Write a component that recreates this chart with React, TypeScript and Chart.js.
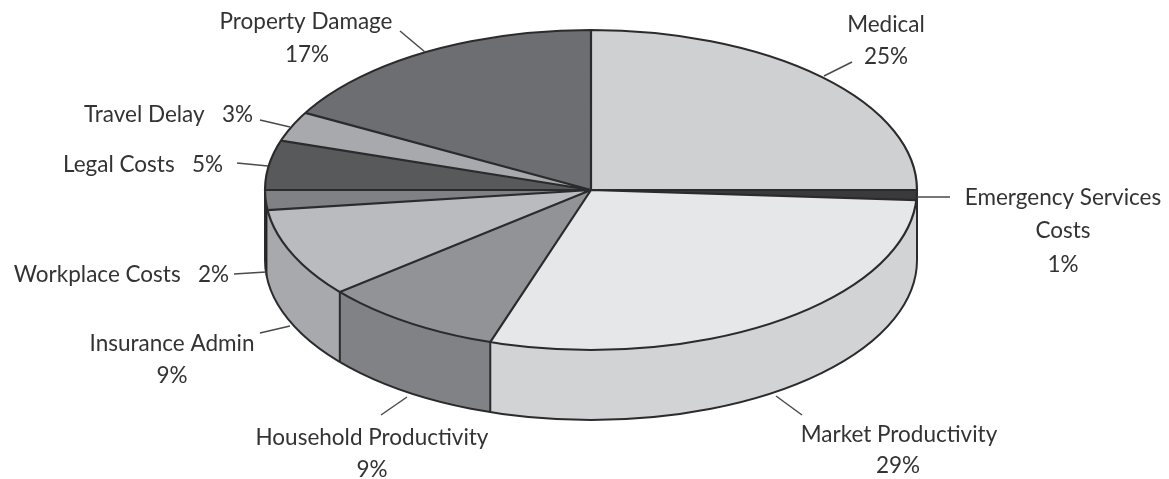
import React, { useEffect, useRef } from "react";
import { Chart, registerables } from "chart.js";

Chart.register(...registerables);

const categories = ["Medical", "Emergency Services Costs", "Market Productivity", "Household Productivity", "Insurance Admin", "Workplace Costs", "Legal Costs", "Travel Delay", "Property Damage"];
const shares = [25, 1, 29, 9, 9, 2, 5, 3, 17];
const topColors = ["#cfd0d2", "#3a3a3c", "#e6e7e9", "#929396", "#babbbf", "#808184", "#58595b", "#a7a9ac", "#6d6e71"];
const wallColors = ["#cfd0d2", "#d1d3d4", "#d1d3d4", "#808285", "#a7a9ac", "#231f20", "#58595b", "#a7a9ac", "#6d6e71"];

const CX = 591, CY = 190, RX = 326, RY = 160, DEPTH = 70;
const INK = "#333335";
const FONT = '22.5px Lato';

type Row = { text: string; x: number; y: number; align: CanvasTextAlign };
const labelLayout: ((name: string, pct: string) => Row[])[] = [
  (n, p) => [{ text: n, x: 886, y: 32, align: "center" }, { text: p, x: 886, y: 64, align: "center" }],
  (n, p) => [
    { text: "Emergency Services", x: 1063, y: 205, align: "center" },
    { text: "Costs", x: 1063, y: 238, align: "center" },
    { text: p, x: 1063, y: 272, align: "center" },
  ],
  (n, p) => [{ text: n, x: 899, y: 442, align: "center" }, { text: p, x: 898, y: 473, align: "center" }],
  (n, p) => [{ text: n, x: 372, y: 445, align: "center" }, { text: p, x: 372, y: 477, align: "center" }],
  (n, p) => [{ text: n, x: 172, y: 351, align: "center" }, { text: p, x: 172, y: 383, align: "center" }],
  (n, p) => [{ text: `${n}   ${p}`, x: 229, y: 282, align: "right" }],
  (n, p) => [{ text: `${n}   ${p}`, x: 223, y: 172, align: "right" }],
  (n, p) => [{ text: `${n}   ${p}`, x: 253, y: 122, align: "right" }],
  (n, p) => [{ text: n, x: 306, y: 29, align: "center" }, { text: p, x: 307, y: 62, align: "center" }],
];
const leaders = [
  [824, 76, 852, 62],
  [917, 197, 950, 197],
  [776, 396, 802, 415],
  [407, 397, 381, 415],
  [290, 326, 260, 333],
  [266, 272, 234, 274],
  [268, 166, 237, 163],
  [290, 127, 260, 120],
  [425, 52, 400, 31],
];

const pie3d = {
  id: "pie3d",
  beforeDatasetsDraw(chart: any) {
    const ctx: CanvasRenderingContext2D = chart.ctx;
    const arcs = chart.getDatasetMeta(0).data;
    // side wall, from the arc elements' own angles
    arcs.forEach((arc: any, i: number) => {
      const { startAngle, endAngle } = arc.getProps(["startAngle", "endAngle"]);
      const a = Math.max(startAngle, 0);
      const b = Math.min(endAngle, Math.PI);
      if (b <= a) return;
      ctx.beginPath();
      ctx.ellipse(CX, CY, RX, RY, 0, a, b);
      ctx.ellipse(CX, CY + DEPTH, RX, RY, 0, b, a, true);
      ctx.closePath();
      ctx.fillStyle = wallColors[i];
      ctx.fill();
    });
    ctx.strokeStyle = "#2b2b2d";
    ctx.lineWidth = 2;
    ctx.beginPath();
    ctx.ellipse(CX, CY + DEPTH, RX, RY, 0, 0, Math.PI);
    ctx.moveTo(CX + RX, CY);
    ctx.lineTo(CX + RX, CY + DEPTH);
    ctx.moveTo(CX - RX, CY);
    ctx.lineTo(CX - RX, CY + DEPTH);
    ctx.stroke();
    arcs.forEach((arc: any) => {
      const { startAngle } = arc.getProps(["startAngle"]);
      const t = startAngle;
      if (t > 0.2 && t < Math.PI - 0.2) {
        const x = CX + RX * Math.cos(t), y = CY + RY * Math.sin(t);
        ctx.beginPath();
        ctx.moveTo(x, y);
        ctx.lineTo(x, y + DEPTH);
        ctx.stroke();
      }
    });
    // squash the circular pie into the ellipse
    const { x, y, outerRadius } = arcs[0].getProps(["x", "y", "outerRadius"]);
    ctx.save();
    ctx.translate(CX, CY);
    ctx.scale(RX / outerRadius, RY / outerRadius);
    ctx.translate(-x, -y);
  },
  afterDatasetsDraw(chart: any) {
    const ctx: CanvasRenderingContext2D = chart.ctx;
    ctx.restore();
    const arcs = chart.getDatasetMeta(0).data;
    ctx.strokeStyle = "#2b2b2d";
    ctx.lineWidth = 2.2;
    ctx.beginPath();
    ctx.ellipse(CX, CY, RX, RY, 0, 0, Math.PI * 2);
    arcs.forEach((arc: any) => {
      const { startAngle } = arc.getProps(["startAngle"]);
      ctx.moveTo(CX, CY);
      ctx.lineTo(CX + RX * Math.cos(startAngle), CY + RY * Math.sin(startAngle));
    });
    ctx.stroke();

    ctx.lineWidth = 1.5;
    ctx.strokeStyle = "#4a4a4c";
    leaders.forEach(([x1, y1, x2, y2]) => {
      ctx.beginPath();
      ctx.moveTo(x1, y1);
      ctx.lineTo(x2, y2);
      ctx.stroke();
    });

    ctx.fillStyle = INK;
    ctx.font = FONT;
    ctx.textBaseline = "alphabetic";
    categories.forEach((name, i) => {
      labelLayout[i](name, `${shares[i]}%`).forEach((r) => {
        ctx.textAlign = r.align;
        ctx.fillText(r.text, r.x, r.y);
      });
    });
  },
};

export default function App() {
  const ref = useRef<HTMLCanvasElement>(null);
  useEffect(() => {
    document.body.style.margin = "0";
    document.body.style.background = "#ffffff";
    const chart = new Chart(ref.current!, {
      type: "doughnut",
      data: {
        labels: categories,
        datasets: [{ data: shares, backgroundColor: topColors, borderWidth: 0, clip: false } as any],
      },
      options: {
        responsive: false,
        animation: false,
        cutout: 0,
        layout: { padding: 0 },
        plugins: { legend: { display: false }, tooltip: { enabled: false } },
      },
      plugins: [pie3d],
    });
    return () => chart.destroy();
  }, []);
  return <canvas ref={ref} width={1169} height={479} style={{ display: "block" }} />;
}
